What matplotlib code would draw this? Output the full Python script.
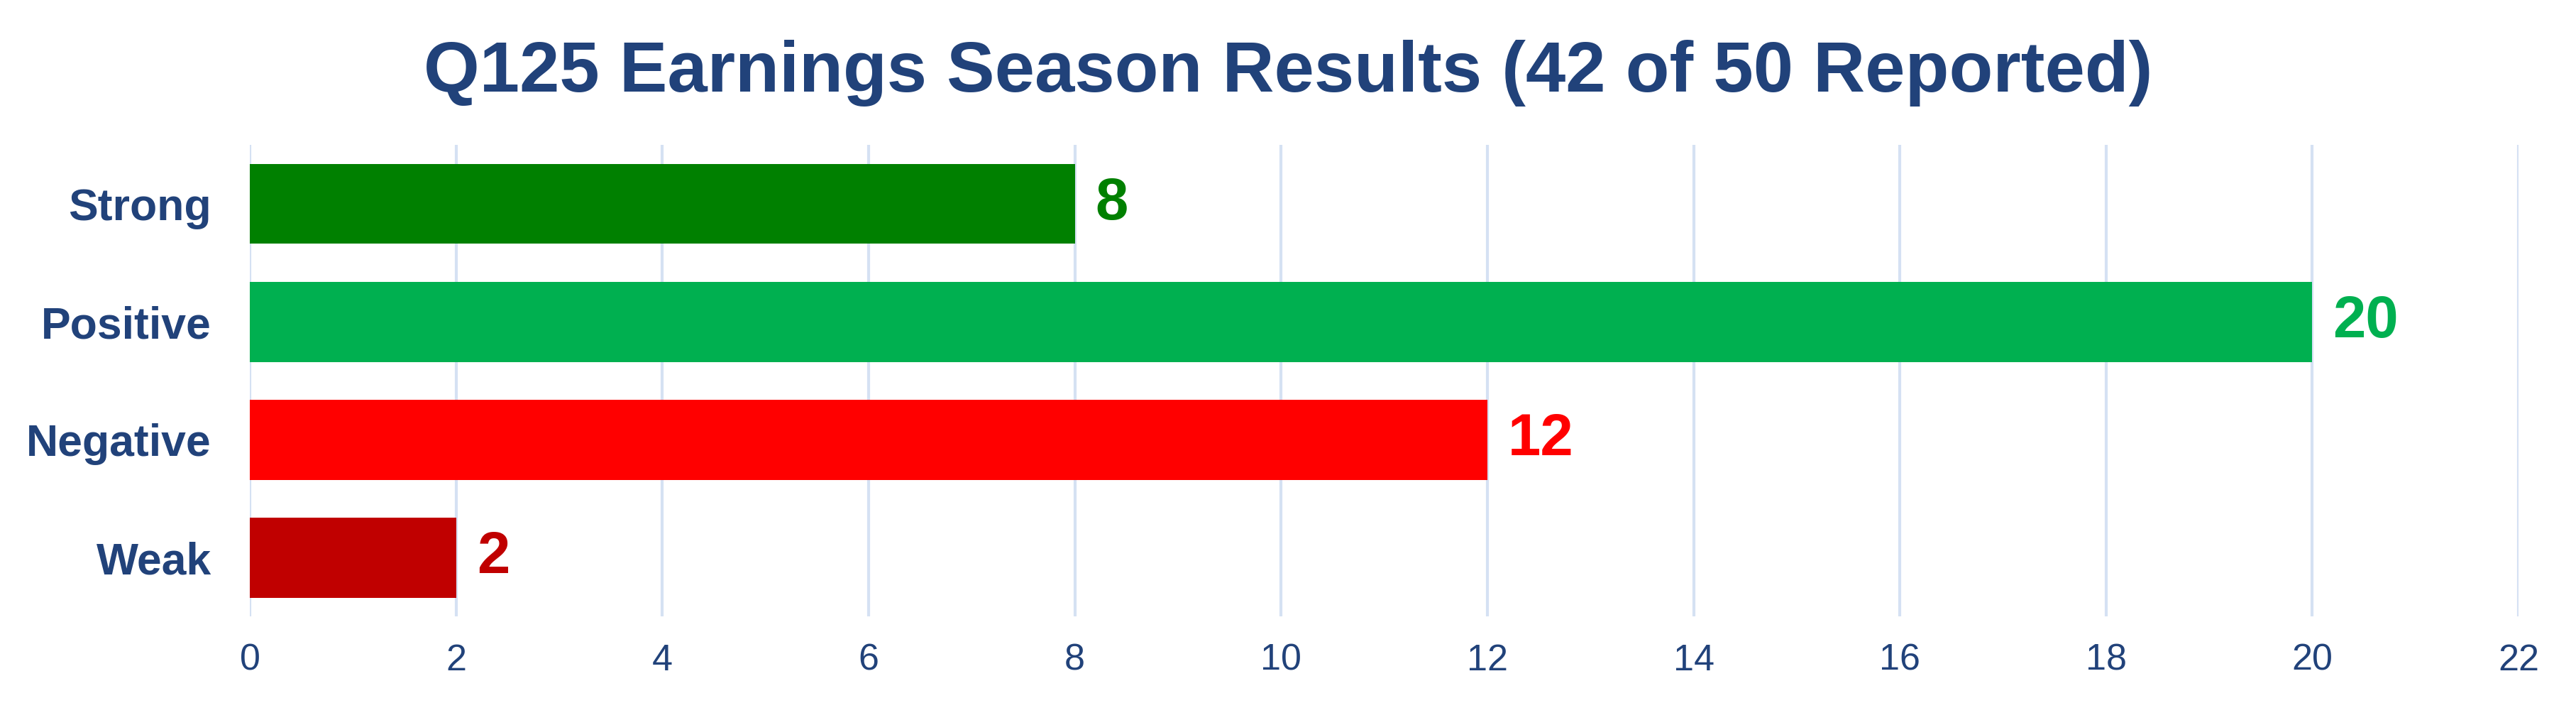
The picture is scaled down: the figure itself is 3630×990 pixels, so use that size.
import matplotlib
matplotlib.use('Agg')
from matplotlib import pyplot as plt

categories = ['Strong', 'Positive', 'Negative', 'Weak']
counts = [8, 20, 12, 2]
bar_colors = ['#008000', '#00B050', '#FF0000', '#C00000']
x_ticks = list(range(0, 24, 2))
title = 'Q125 Earnings Season Results (42 of 50 Reported)'

navy = '#21427A'
grid_color = '#D5E1F3'

plt.rcParams['font.family'] = ['Liberation Sans', 'DejaVu Sans']

fig = plt.figure(figsize=(12.1, 3.3), dpi=300)
ax = fig.add_axes([0.097, 0.123, 0.8807, 0.671])

ypos = list(range(len(categories)))
ax.barh(ypos, counts, height=0.68, color=bar_colors, zorder=2)

# value labels just past the end of each bar
for y, v, c in zip(ypos, counts, bar_colors):
    ax.text(v + 0.2, y, str(v), color=c, fontsize=20, fontweight='bold',
            va='center', ha='left')

ax.set_xlim(0, 22)
ax.set_ylim(3.5, -0.5)
ax.set_xticks(x_ticks)
ax.set_xticklabels([str(t) for t in x_ticks], fontsize=12.5, color=navy)
ax.set_yticks(ypos)
ax.set_yticklabels(categories, fontsize=15, fontweight='bold', color=navy)
ax.tick_params(axis='both', length=0)
ax.tick_params(axis='x', pad=9)
ax.tick_params(axis='y', pad=13)

ax.grid(axis='x', color=grid_color, linewidth=1.0, zorder=0)
for s in ax.spines.values():
    s.set_visible(False)

fig.text(0.5, 0.870, title, ha='center', va='baseline', fontsize=24.3,
         fontweight='bold', color=navy)

fig.savefig('out.png', dpi=300, facecolor='white')
